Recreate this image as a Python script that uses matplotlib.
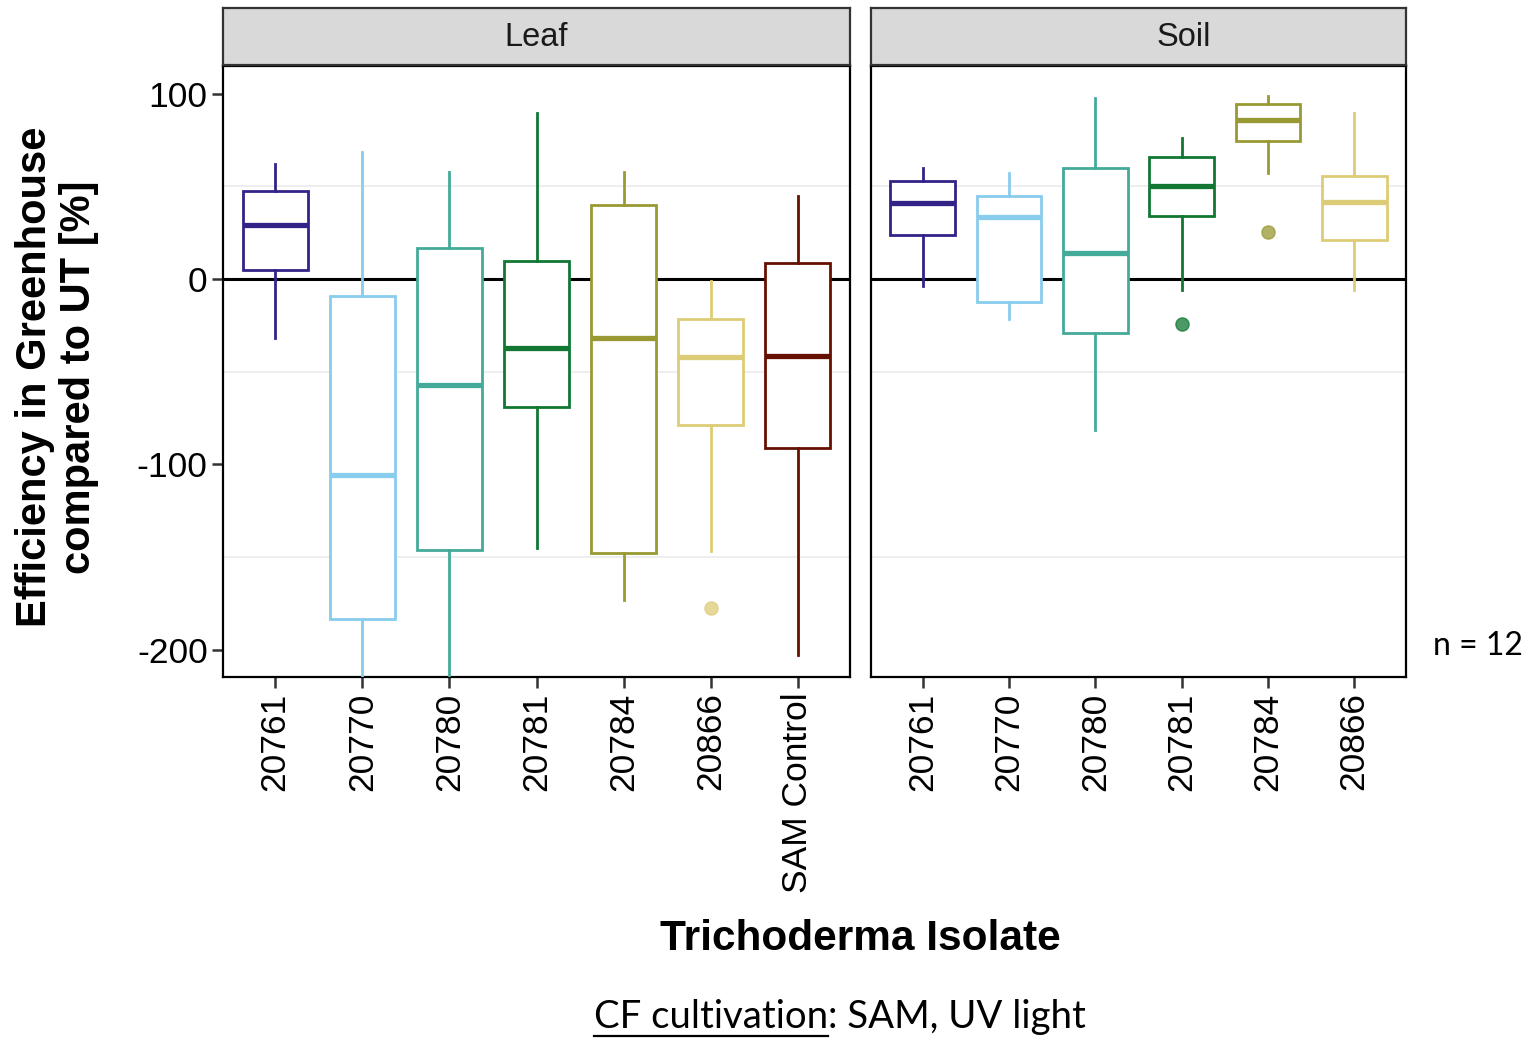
import matplotlib
matplotlib.use("Agg")
import matplotlib.pyplot as plt
from matplotlib.lines import Line2D

plt.rcParams['font.family'] = ['Liberation Sans', 'DejaVu Sans']

# ---- data ----
leaf_isolates = ["20761", "20770", "20780", "20781", "20784", "20866", "SAM Control"]
leaf_whislo = [-32, -235, -230, -145, -173, -147, -203]
leaf_q1     = [5, -183.5, -146, -69, -148, -79, -91]
leaf_med    = [29, -106, -57, -37, -32, -42, -41.5]
leaf_q3     = [47.5, -9, 17, 10, 40, -21.5, 8.6]
leaf_whishi = [62, 68.5, 58, 89.6, 58, -1, 45]
leaf_fliers = [[], [], [], [], [], [-177.5], []]

soil_isolates = ["20761", "20770", "20780", "20781", "20784", "20866"]
soil_whislo = [-4, -21.6, -81.5, -6, 57, -6]
soil_q1     = [24, -12.4, -29, 34, 74.5, 21]
soil_med    = [41, 33.5, 14, 50, 86, 41.5]
soil_q3     = [53, 45, 60, 66, 94.4, 55.6]
soil_whishi = [60, 57, 97.7, 76, 99, 89.6]
soil_fliers = [[], [], [], [-24], [25.4], []]

colors = {"20761": "#332288", "20770": "#88CCEE", "20780": "#44AA99",
          "20781": "#117733", "20784": "#999933", "20866": "#DDCC77",
          "SAM Control": "#661100"}

yticks = [100, 0, -100, -200]
yminor = [50, -50, -150]

W, H = 1529, 1038
fig = plt.figure(figsize=(W / 100, H / 100), dpi=100)

def fx(px):
    return px / W

def fy(py):
    return 1 - py / H

panel_top, panel_bot = 66, 677
strip_top = 8
# (title, left px, right px, strip-text centre px, data...)
panels = [
    ("Leaf", 223, 850, 536, leaf_isolates, leaf_whislo, leaf_q1, leaf_med, leaf_q3, leaf_whishi, leaf_fliers),
    ("Soil", 871, 1406, 1184, soil_isolates, soil_whislo, soil_q1, soil_med, soil_q3, soil_whishi, soil_fliers),
]

for (title, x0, x1, tcx, cats, wl, q1, md, q3, wh, fl) in panels:
    ax = fig.add_axes([fx(x0), fy(panel_bot), fx(x1) - fx(x0), fy(panel_top) - fy(panel_bot)])
    n = len(cats)
    for i in range(n):
        s = dict(med=md[i], q1=q1[i], q3=q3[i], whislo=wl[i], whishi=wh[i],
                 fliers=fl[i], label=cats[i])
        c = colors[cats[i]]
        ax.bxp([s], positions=[i], widths=0.75, showcaps=False, patch_artist=True,
               boxprops=dict(facecolor="white", edgecolor=c, linewidth=2.0),
               whiskerprops=dict(color=c, linewidth=2.0),
               medianprops=dict(color=c, linewidth=3.8, solid_capstyle="butt"),
               flierprops=dict(marker="o", markerfacecolor=c, markeredgecolor=c,
                               markersize=9.5, alpha=0.75, linestyle="none"),
               zorder=3)
    ax.set_xlim(-0.6, n - 1 + 0.6)
    ax.set_ylim(-214.8, 115)
    ax.set_xticks(range(n))
    ax.set_xticklabels(cats, rotation=90, fontsize=25.5)
    ax.set_yticks(yticks)
    ax.set_yticks(yminor, minor=True)
    ax.grid(which="minor", axis="y", color="#EBEBEB", linewidth=1.2, zorder=0)
    ax.grid(which="major", visible=False)
    ax.tick_params(axis="y", which="minor", length=0)
    ax.tick_params(axis="both", which="major", length=8, width=1.8, color="#333333",
                   labelsize=25.5, pad=3)
    ax.axhline(0, color="black", linewidth=2.2, zorder=2)
    for sp in ax.spines.values():
        sp.set_color("black")
        sp.set_linewidth(1.6)
    if title == "Leaf":
        ax.set_yticklabels([str(v) for v in yticks])
    else:
        ax.tick_params(axis="y", labelleft=False, left=False)
    # strip
    sax = fig.add_axes([fx(x0), fy(panel_top - 1), fx(x1) - fx(x0), fy(strip_top) - fy(panel_top - 1)])
    sax.set_xticks([]); sax.set_yticks([])
    sax.set_facecolor("#D9D9D9")
    for sp in sax.spines.values():
        sp.set_color("#333333")
        sp.set_linewidth(1.6)
    fig.text(fx(tcx), fy(37), title, ha="center", va="center", fontsize=23.5, color="#1A1A1A")

# y axis title
fig.text(fx(57), fy(377), "Efficiency in Greenhouse\ncompared to UT [%]", rotation=90,
         ha="center", va="center", fontsize=30, fontweight="bold", linespacing=1.12)
# x axis title
fig.text(fx(860), fy(939), "Trichoderma Isolate", ha="center", va="center",
         fontsize=30.5, fontweight="bold")
# n label
fig.text(fx(1478), fy(646), "n = 12", ha="center", va="center", fontsize=23,
         family=["Lato", "DejaVu Sans"])

# caption with underline
renderer = fig.canvas.get_renderer()
cap_font = dict(fontsize=27.6, family=["Lato", "DejaVu Sans"])
t1 = fig.text(fx(594), fy(1017), "CF cultivation", ha="left", va="center", **cap_font)
bb = t1.get_window_extent(renderer=renderer)
t2 = fig.text(bb.x1 / W, fy(1017), ": SAM, UV light", ha="left", va="center", **cap_font)
uy = (bb.y0 - 1) / H
fig.add_artist(Line2D([bb.x0 / W, bb.x1 / W], [uy, uy], color="black", linewidth=1.6,
                      transform=fig.transFigure))

fig.savefig("out.png", dpi=100)
